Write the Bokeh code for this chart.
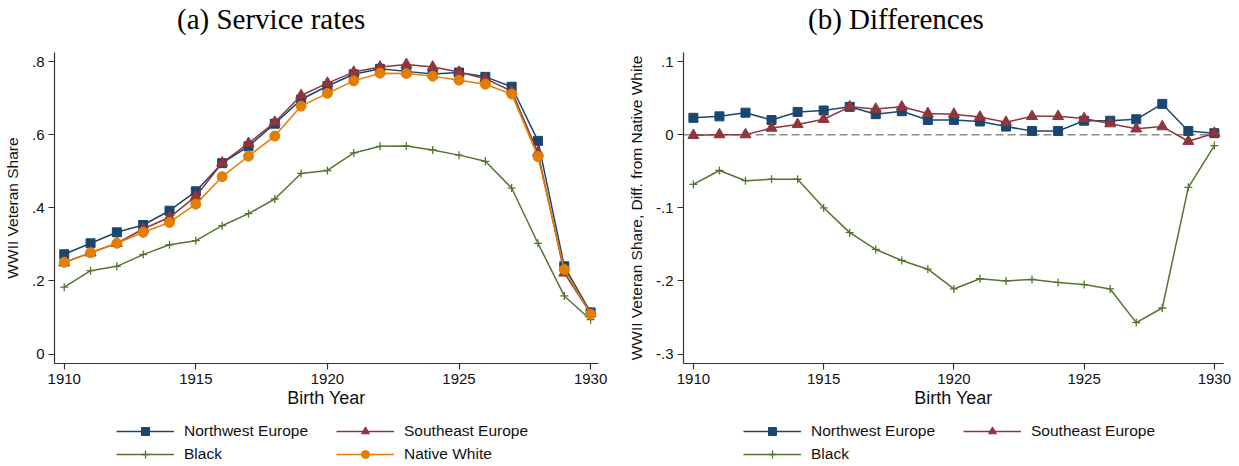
from bokeh.plotting import figure
from bokeh.models import (Range1d, FixedTicker, CustomJSTickFormatter, Legend,
                          LegendItem, Span, Div)
from bokeh.layouts import row, column
from bokeh.embed import file_html
from bokeh.resources import INLINE

# Birth cohorts
years = list(range(1910, 1931))

# (a) WWII veteran share by group
northwest = [0.273, 0.303, 0.333, 0.353, 0.392, 0.445, 0.522, 0.568, 0.630, 0.696,
             0.733, 0.765, 0.780, 0.773, 0.766, 0.770, 0.758, 0.731, 0.583, 0.240, 0.114]
southeast = [0.250, 0.277, 0.303, 0.342, 0.374, 0.431, 0.523, 0.576, 0.634, 0.707,
             0.741, 0.771, 0.785, 0.792, 0.785, 0.771, 0.753, 0.719, 0.551, 0.222, 0.111]
black = [0.183, 0.228, 0.240, 0.272, 0.299, 0.310, 0.351, 0.384, 0.424, 0.494,
         0.502, 0.550, 0.568, 0.569, 0.558, 0.544, 0.527, 0.454, 0.303, 0.159, 0.094]
native_white = [0.251, 0.277, 0.303, 0.333, 0.360, 0.410, 0.485, 0.541, 0.596, 0.678,
                0.713, 0.747, 0.768, 0.767, 0.760, 0.749, 0.738, 0.711, 0.540, 0.231, 0.109]

# (b) differences from native white
northwest_diff = [0.023, 0.025, 0.030, 0.020, 0.031, 0.033, 0.038, 0.028, 0.032, 0.020,
                  0.020, 0.018, 0.011, 0.005, 0.005, 0.019, 0.019, 0.021, 0.042, 0.005, 0.002]
southeast_diff = [-0.001, 0.000, 0.000, 0.009, 0.014, 0.021, 0.038, 0.035, 0.038, 0.029,
                  0.028, 0.024, 0.017, 0.025, 0.025, 0.022, 0.015, 0.008, 0.011, -0.009, 0.002]
black_diff = [-0.068, -0.049, -0.063, -0.061, -0.061, -0.100, -0.134, -0.157, -0.172, -0.184,
              -0.211, -0.197, -0.200, -0.198, -0.202, -0.205, -0.211, -0.257, -0.237, -0.072, -0.015]

year_ticks = [1910, 1915, 1920, 1925, 1930]
share_ticks = [0, 0.2, 0.4, 0.6, 0.8]
diff_ticks = [-0.3, -0.2, -0.1, 0, 0.1]

NAVY = "#1a476f"
MAROON = "#90353b"
GREEN = "#55752f"
ORANGE = "#e37e00"
SANS = "Liberation Sans"
SERIF = "Liberation Serif"
AXIS_COLOR = "#333333"

# series styles: (colour, marker, size)
STYLE = {
    "Northwest Europe": (NAVY, "square", 9),
    "Southeast Europe": (MAROON, "triangle", 11),
    "Black": (GREEN, "cross", 8),
    "Native White": (ORANGE, "circle", 10),
}

stata_fmt = CustomJSTickFormatter(code="""
    if (Math.abs(tick) < 1e-9) { return "0"; }
    var s = tick.toFixed(1);
    return s.replace("0.", ".");
""")


def make_heading(width, text, indent):
    return Div(text=text, width=width, height=52, margin=0,
               styles={"font-family": SERIF, "font-size": "29px", "color": "#000000",
                       "padding-left": f"{indent}px", "line-height": "38px",
                       "white-space": "nowrap", "box-sizing": "border-box"})


def make_panel(width, border_left, border_right, xr, yr, yticks, ylabel):
    p = figure(width=width, height=363, x_range=Range1d(*xr), y_range=Range1d(*yr),
               output_backend="svg", toolbar_location=None, title=None,
               min_border_left=border_left, min_border_right=border_right,
               min_border_top=0, min_border_bottom=52)
    p.outline_line_color = None
    p.xgrid.visible = False
    p.ygrid.visible = False
    p.background_fill_color = "white"
    p.border_fill_color = "white"

    for ax in (p.xaxis[0], p.yaxis[0]):
        ax.axis_line_color = AXIS_COLOR
        ax.axis_line_width = 1.2
        ax.major_tick_line_color = AXIS_COLOR
        ax.major_tick_line_width = 1.2
        ax.major_tick_out = 6
        ax.major_tick_in = 0
        ax.minor_tick_line_color = None
        ax.major_label_text_font = SANS
        ax.major_label_text_font_size = "15px"
        ax.major_label_text_color = "#111111"
        ax.major_label_standoff = 4
        ax.axis_label_text_font = SANS
        ax.axis_label_text_font_style = "normal"
        ax.axis_label_text_color = "#111111"

    p.xaxis.ticker = FixedTicker(ticks=year_ticks)
    p.xaxis.axis_label = "Birth Year"
    p.xaxis.axis_label_text_font_size = "18px"
    p.xaxis.axis_label_standoff = 1

    p.yaxis.ticker = FixedTicker(ticks=yticks)
    p.yaxis.formatter = stata_fmt
    p.yaxis.axis_label = ylabel
    p.yaxis.axis_label_text_font_size = "15.5px"
    p.yaxis.axis_label_standoff = 8
    return p


def glyph_kwargs(name):
    color, marker, size = STYLE[name]
    kw = dict(marker=marker, size=size, fill_color=color, line_color=color)
    if marker == "cross":
        kw["line_width"] = 1.3
    return kw


def add_series(p, ys, name):
    color = STYLE[name][0]
    p.line(years, ys, line_color=color, line_width=1.5)
    p.scatter(years, ys, **glyph_kwargs(name))


def make_key(width, names, x):
    """Legend strip placed under a panel; it keys the series styles."""
    k = figure(width=width, height=51, x_range=Range1d(0, 1), y_range=Range1d(0, 1),
               output_backend="svg", toolbar_location=None, title=None,
               x_axis_location=None, y_axis_location=None, min_border=0)
    k.outline_line_color = None
    k.xgrid.visible = False
    k.ygrid.visible = False
    nan = [float("nan")]
    items = []
    for name in names:
        color = STYLE[name][0]
        ln = k.line(nan, nan, line_color=color, line_width=1.5)
        sc = k.scatter(nan, nan, **glyph_kwargs(name))
        items.append(LegendItem(label=name, renderers=[ln, sc]))
    lg = Legend(items=items, location=(x, 2), orientation="horizontal", ncols=2,
                glyph_width=58, glyph_height=20, label_height=20, label_width=149,
                label_standoff=10, spacing=3, padding=0, margin=0,
                border_line_color=None, background_fill_alpha=0, label_text_font=SANS,
                label_text_font_size="15.5px", label_text_color="#111111")
    k.add_layout(lg)
    return k


# ---- (a) Service rates ----
ta = make_heading(620, "(a) Service rates", 177)
pa = make_panel(620, 53, 22, (1909.63, 1930.30), (-0.0257, 0.8246), share_ticks,
                "WWII Veteran Share")
add_series(pa, northwest, "Northwest Europe")
add_series(pa, southeast, "Southeast Europe")
add_series(pa, black, "Black")
add_series(pa, native_white, "Native White")
ka = make_key(620, ["Northwest Europe", "Southeast Europe", "Black", "Native White"], 116)

# ---- (b) Differences ----
tb = make_heading(619, "(b) Differences", 188)
pb = make_panel(619, 63, 16, (1909.62, 1930.35), (-0.3129, 0.1123), diff_ticks,
                "WWII Veteran Share, Diff. from Native White")
pb.add_layout(Span(location=0, dimension="width", line_color="#8c8c8c", line_width=1.5,
                   line_dash="8 4", level="underlay"))
add_series(pb, northwest_diff, "Northwest Europe")
add_series(pb, southeast_diff, "Southeast Europe")
add_series(pb, black_diff, "Black")
kb = make_key(619, ["Northwest Europe", "Southeast Europe", "Black"], 123)

layout = column(row(ta, tb, spacing=0), row(pa, pb, spacing=0), row(ka, kb, spacing=0),
                spacing=0)
open("out.html", "w").write(file_html(layout, INLINE))
